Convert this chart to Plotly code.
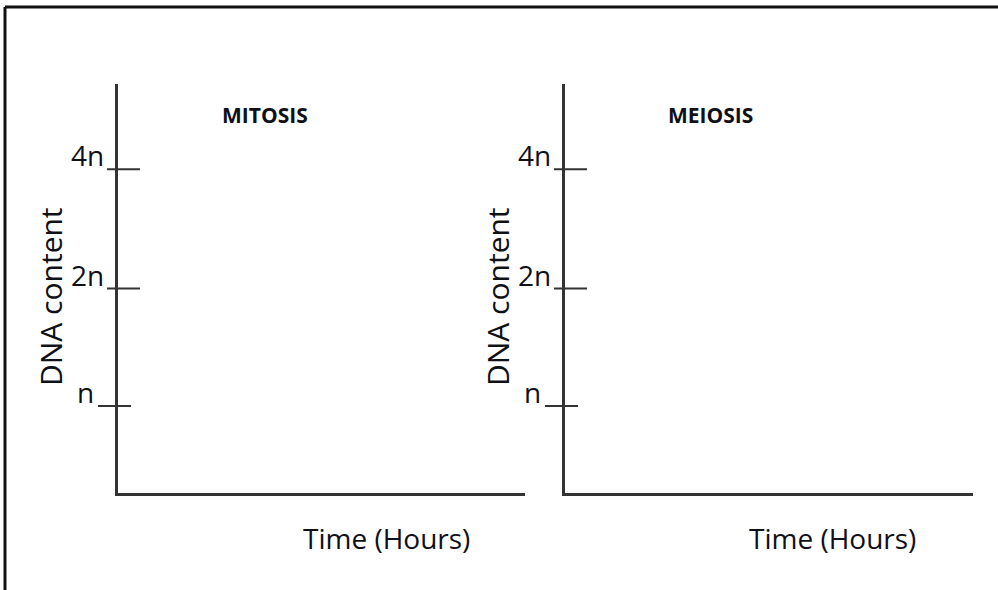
import plotly.graph_objects as go

# ---- data ----
panel_titles = ["MITOSIS", "MEIOSIS"]
x_title = "Time (Hours)"
y_title = "DNA content"
tick_labels = ["n", "2n", "4n"]
tick_values = [1.0, 2.35, 3.72]   # hand-drawn (non-linear) positions of the ticks
y_max = 4.7
x_max = 10

# ---- styling ----
W, H = 998, 590
FONT = "Open Sans"
TXT = "#101018"
LINE = "#333333"
tick_out = [20, 11, 11]     # px of each tick mark left of the axis
tick_in = [13, 22, 22]      # px of each tick mark right of the axis
label_gap = [22, 12, 12]    # px between label right edge and axis

def px(x):
    return x / W

def py(y):
    return 1 - y / H

fig = go.Figure()

x_doms = [(118, 525), (565, 973)]
y_dom = (493, 84)

for i, (x0, x1) in enumerate(x_doms):
    n = i + 1
    xa = "x" if n == 1 else f"x{n}"
    ya = "y" if n == 1 else f"y{n}"
    dom_w = x1 - x0
    fig.add_trace(go.Scatter(x=[], y=[], xaxis=xa, yaxis=ya, showlegend=False, hoverinfo="skip"))

    fig.layout[f"xaxis{'' if n == 1 else n}"] = dict(
        domain=[px(x0), px(x1)], range=[0, x_max], showline=True, linecolor=LINE, linewidth=3,
        showticklabels=False, ticks="", showgrid=False, zeroline=False, anchor=ya, fixedrange=True)
    fig.layout[f"yaxis{'' if n == 1 else n}"] = dict(
        range=[0, y_max], domain=[py(y_dom[0]), py(y_dom[1])], anchor=xa,
        showline=True, linecolor=LINE, linewidth=3, ticks="", showticklabels=False,
        showgrid=False, zeroline=False, fixedrange=True)

    xdom_ref = f"{xa} domain"
    for k, (tv, tl) in enumerate(zip(tick_values, tick_labels)):
        # crossing tick mark
        fig.add_shape(type="line", xref=xdom_ref, yref=ya,
                      x0=-tick_out[k] / dom_w, x1=tick_in[k] / dom_w, y0=tv, y1=tv,
                      line=dict(color=LINE, width=2))
        # tick label sitting on top of the tick, left of the axis
        fig.add_annotation(xref=xdom_ref, yref=ya, x=-label_gap[k] / dom_w, y=tv,
                           text=tl, showarrow=False, xanchor="right", yanchor="bottom",
                           yshift=-7, font=dict(family=FONT, size=28, color=TXT))

    # panel title
    fig.add_annotation(x=px([264.5, 710.5][i]), y=py(115), xref="paper", yref="paper",
                       text=f"<b>{panel_titles[i]}</b>", showarrow=False,
                       font=dict(family=FONT, size=21, color=TXT), xanchor="center", yanchor="middle")
    # x title
    fig.add_annotation(x=px([386, 832][i]), y=py(538), xref="paper", yref="paper",
                       text=x_title, showarrow=False,
                       font=dict(family=FONT, size=28, color=TXT), xanchor="center", yanchor="middle")
    # y title
    fig.add_annotation(x=px([51, 498][i]), y=py(297), xref="paper", yref="paper",
                       text=y_title, showarrow=False, textangle=-90,
                       font=dict(family=FONT, size=30, color=TXT), xanchor="center", yanchor="middle")

# frame (only top and left edges visible in the crop)
fig.add_shape(type="line", xref="paper", yref="paper", x0=px(5), x1=1.0, y0=py(7), y1=py(7),
              line=dict(color="#111111", width=3))
fig.add_shape(type="line", xref="paper", yref="paper", x0=px(5), x1=px(5), y0=py(7), y1=0.0,
              line=dict(color="#111111", width=3))

fig.update_layout(width=W, height=H, margin=dict(l=0, r=0, t=0, b=0),
                  paper_bgcolor="white", plot_bgcolor="white", showlegend=False)

fig.write_html("out.html", config={"displayModeBar": False},
               post_script="document.body.style.margin='0';")
